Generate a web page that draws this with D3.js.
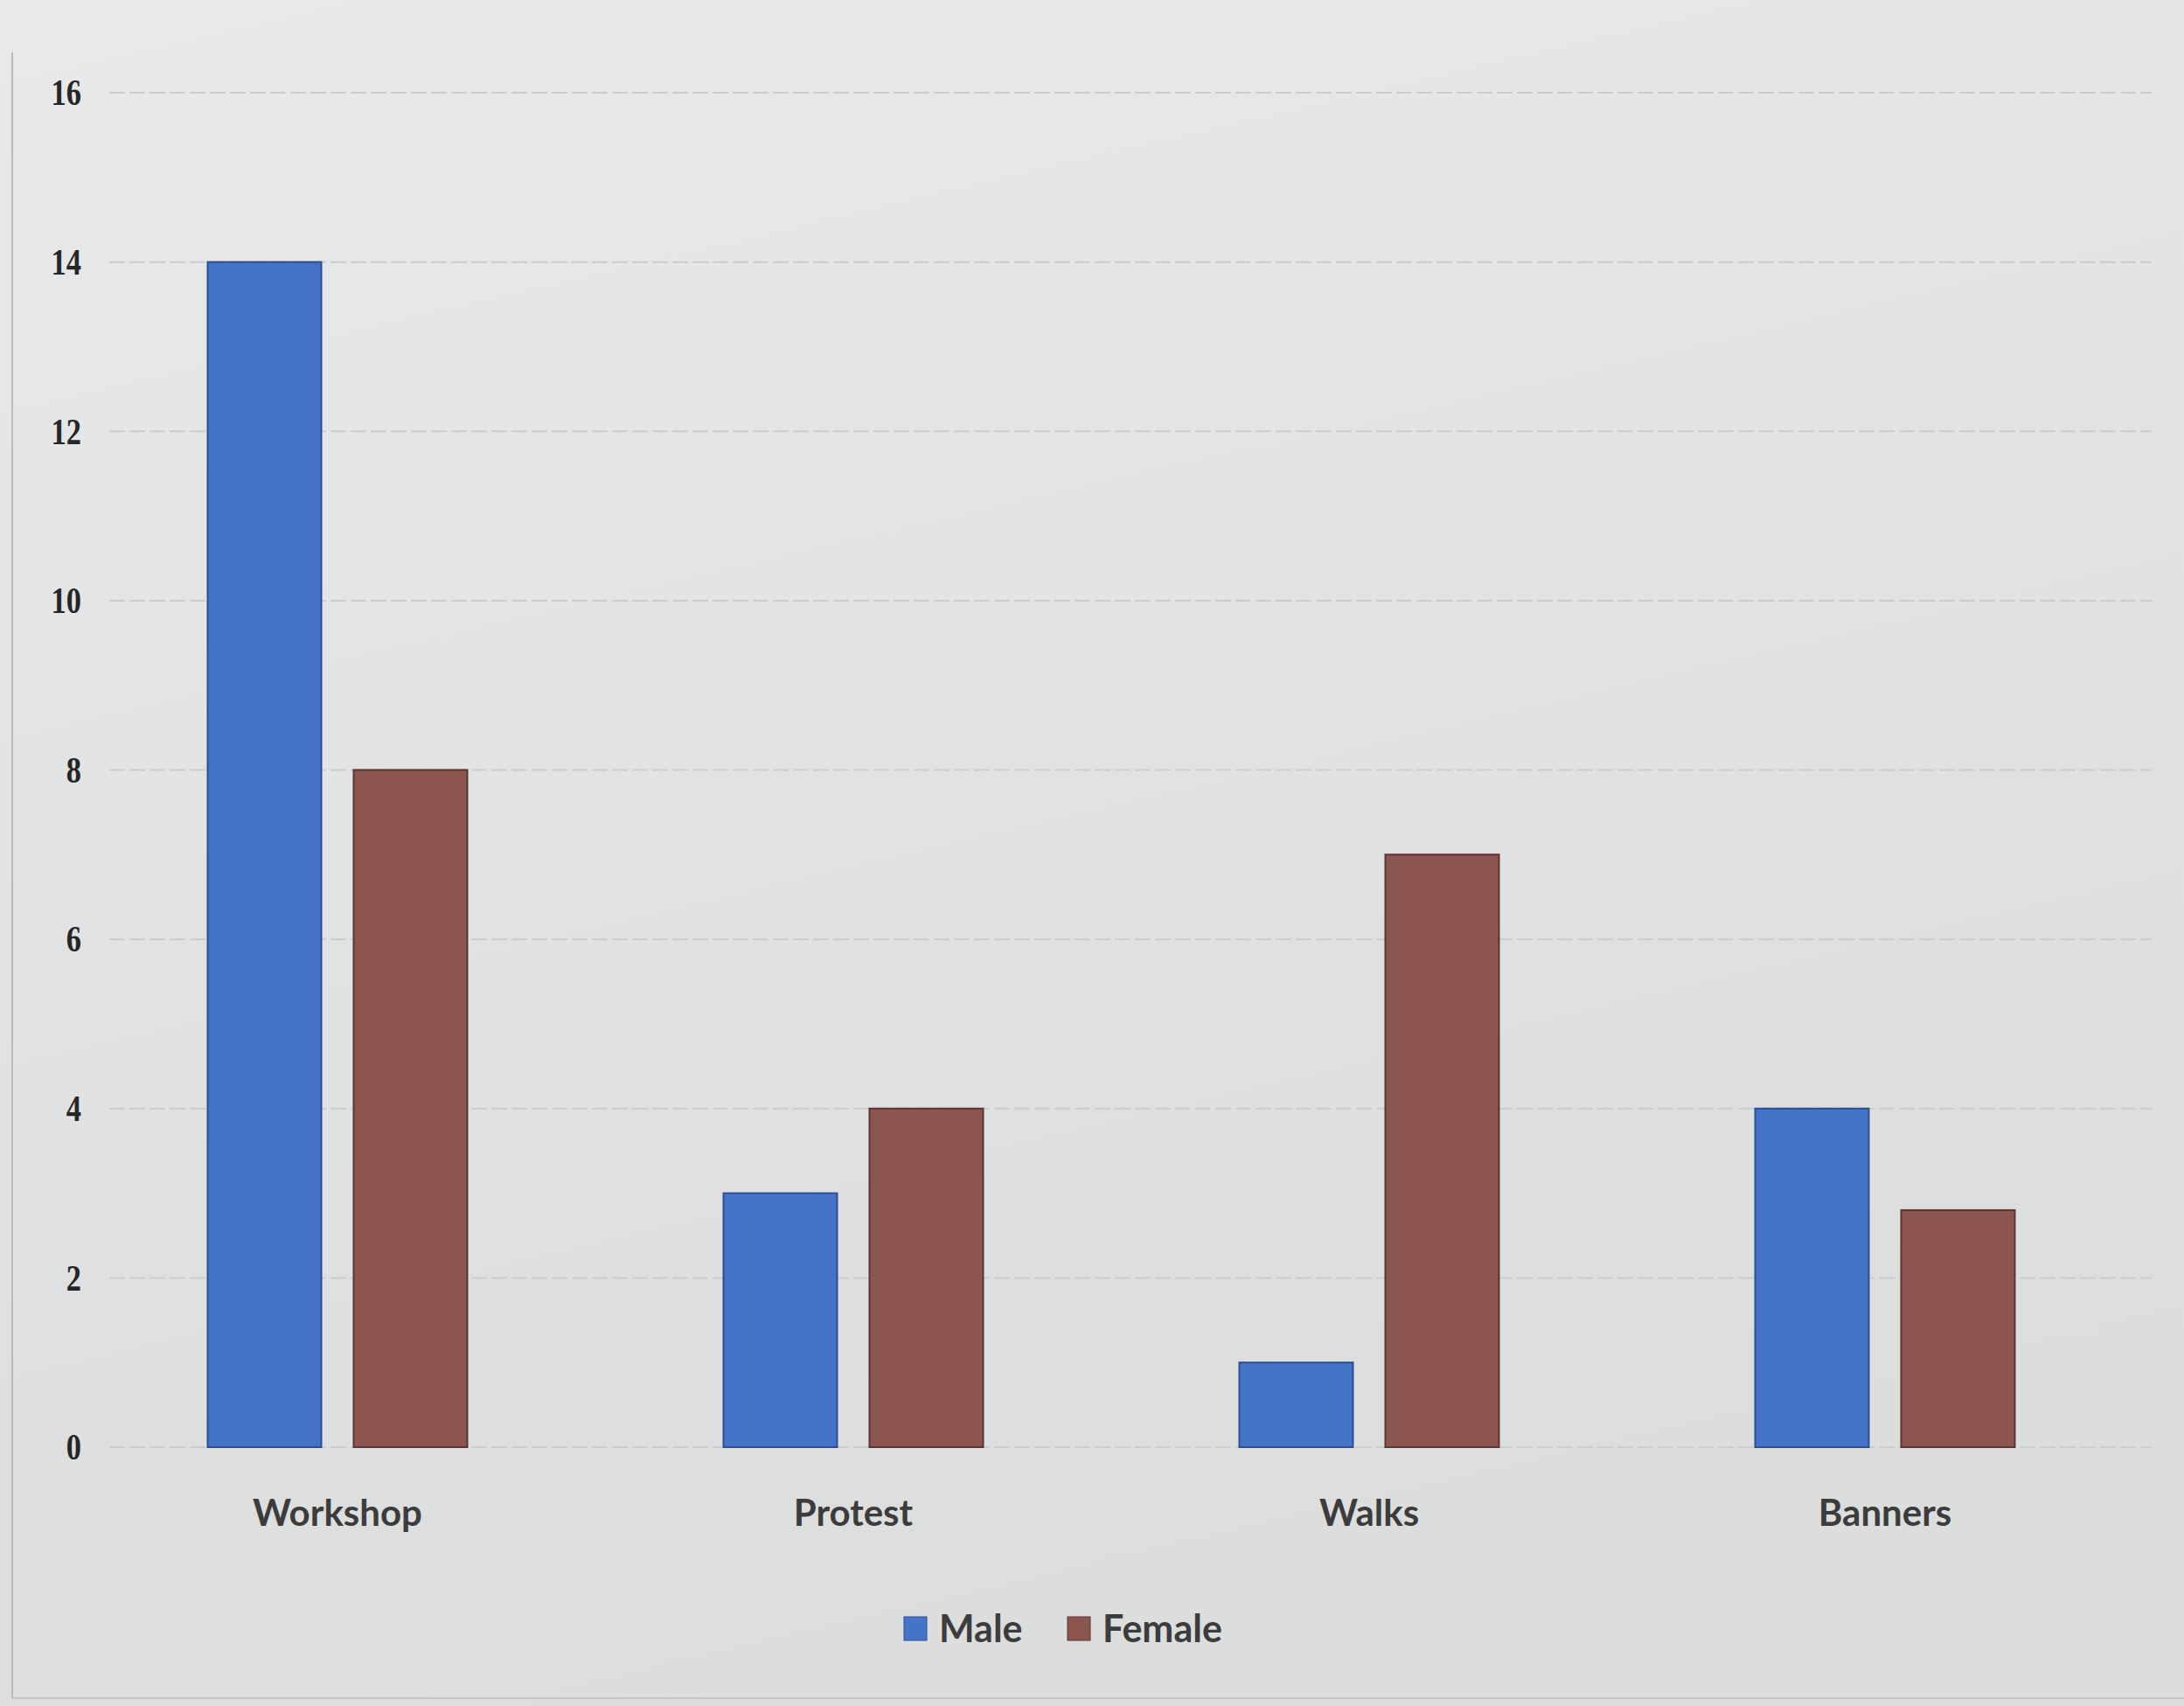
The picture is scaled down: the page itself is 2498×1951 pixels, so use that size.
<!DOCTYPE html>
<html>
<head>
<meta charset="utf-8">
<script src="https://cdn.jsdelivr.net/npm/d3@7"></script>
<style>
  html, body { margin: 0; padding: 0; background: #e2e3e4; }
  svg { display: block; }
</style>
</head>
<body>
<svg id="chart" width="2498" height="1951"></svg>
<script>
// Participation by activity, split by gender
const categories = ["Workshop", "Protest", "Walks", "Banners"];
const seriesNames = ["Male", "Female"];
const maleValues = [14, 3, 1, 4];
const femaleValues = [8, 4, 7, 2.8];
const yTicks = [0, 2, 4, 6, 8, 10, 12, 14, 16];
const seriesColors = ["#4473c8", "#8c5550"];
const seriesEdges = ["#2c4f93", "#5e3432"];

const W = 2498, H = 1951;
const svg = d3.select("#chart");

// paper-like background
const defs = svg.append("defs");
const bg = defs.append("linearGradient").attr("id", "paper")
  .attr("x1", 0).attr("y1", 0).attr("x2", 0.3).attr("y2", 1);
bg.append("stop").attr("offset", "0%").attr("stop-color", "#e8e9eb");
bg.append("stop").attr("offset", "55%").attr("stop-color", "#e0e2e3");
bg.append("stop").attr("offset", "100%").attr("stop-color", "#dcdddd");
svg.append("rect").attr("width", W).attr("height", H).attr("fill", "url(#paper)");

// chart frame
svg.append("line").attr("x1", 14).attr("x2", 14).attr("y1", 60).attr("y2", 1942)
  .attr("stroke", "#b9babb").attr("stroke-width", 2);
svg.append("line").attr("x1", 14).attr("x2", W).attr("y1", 1942).attr("y2", 1942)
  .attr("stroke", "#c4c5c6").attr("stroke-width", 2);

const plotLeft = 91, plotRight = 2451;
const y = d3.scaleLinear().domain([0, 16]).range([1655, 106]);

const x = d3.scaleBand().domain(categories).range([plotLeft, plotRight]).padding(0);
const groupWidth = 297;
const xs = d3.scaleBand().domain(seriesNames).range([0, groupWidth]).paddingInner(0.2216);

// gridlines
svg.append("g").selectAll("line").data(yTicks).join("line")
  .attr("x1", 125).attr("x2", plotRight + 10)
  .attr("y1", d => y(d)).attr("y2", d => y(d))
  .attr("stroke", "#cbcccd").attr("stroke-width", 2)
  .attr("stroke-dasharray", "18 5");

// y axis labels
const yAxis = svg.append("g").attr("transform", "translate(101,0)")
  .call(d3.axisLeft(y).tickValues(yTicks).tickSize(0).tickPadding(8));
yAxis.select(".domain").remove();
yAxis.selectAll("text")
  .attr("font-family", "'Liberation Serif', serif")
  .attr("font-weight", "bold")
  .attr("font-size", 43)
  .attr("fill", "#262626")
  .attr("x", -10)
  .attr("transform", "scale(0.8,1)");

// bars
const rows = categories.map((c, i) => ({ cat: c, vals: [maleValues[i], femaleValues[i]] }));
const groups = svg.append("g").selectAll("g").data(rows).join("g")
  .attr("transform", d => `translate(${x(d.cat) + (x.bandwidth() - groupWidth) / 2},0)`);
groups.selectAll("rect").data(d => d.vals.map((v, j) => ({ s: seriesNames[j], j, v })))
  .join("rect")
  .attr("x", d => xs(d.s))
  .attr("width", xs.bandwidth())
  .attr("y", d => y(d.v))
  .attr("height", d => y(0) - y(d.v))
  .attr("fill", d => seriesColors[d.j])
  .attr("stroke", d => seriesEdges[d.j])
  .attr("stroke-width", 2);

// category labels
const xAxis = svg.append("g").attr("transform", `translate(0,${y(0)})`)
  .call(d3.axisBottom(x).tickSize(0).tickPadding(60));
xAxis.select(".domain").remove();
xAxis.selectAll("text")
  .attr("font-family", "Lato, 'Open Sans', sans-serif")
  .attr("font-weight", "bold")
  .attr("font-size", 42)
  .attr("fill", "#3c3c3c");

// legend
const legend = svg.append("g").attr("transform", "translate(1034,1849)");
const legendX = [0, 187];
seriesNames.forEach((name, i) => {
  const g = legend.append("g").attr("transform", `translate(${legendX[i]},0)`);
  g.append("rect").attr("width", 26).attr("height", 27)
    .attr("fill", seriesColors[i]).attr("stroke", seriesEdges[i]).attr("stroke-width", 1);
  g.append("text").attr("x", 40).attr("y", 29)
    .attr("font-family", "Lato, 'Open Sans', sans-serif")
    .attr("font-weight", "bold")
    .attr("font-size", 43)
    .attr("fill", "#3c3c3c")
    .text(name);
});
</script>
</body>
</html>
